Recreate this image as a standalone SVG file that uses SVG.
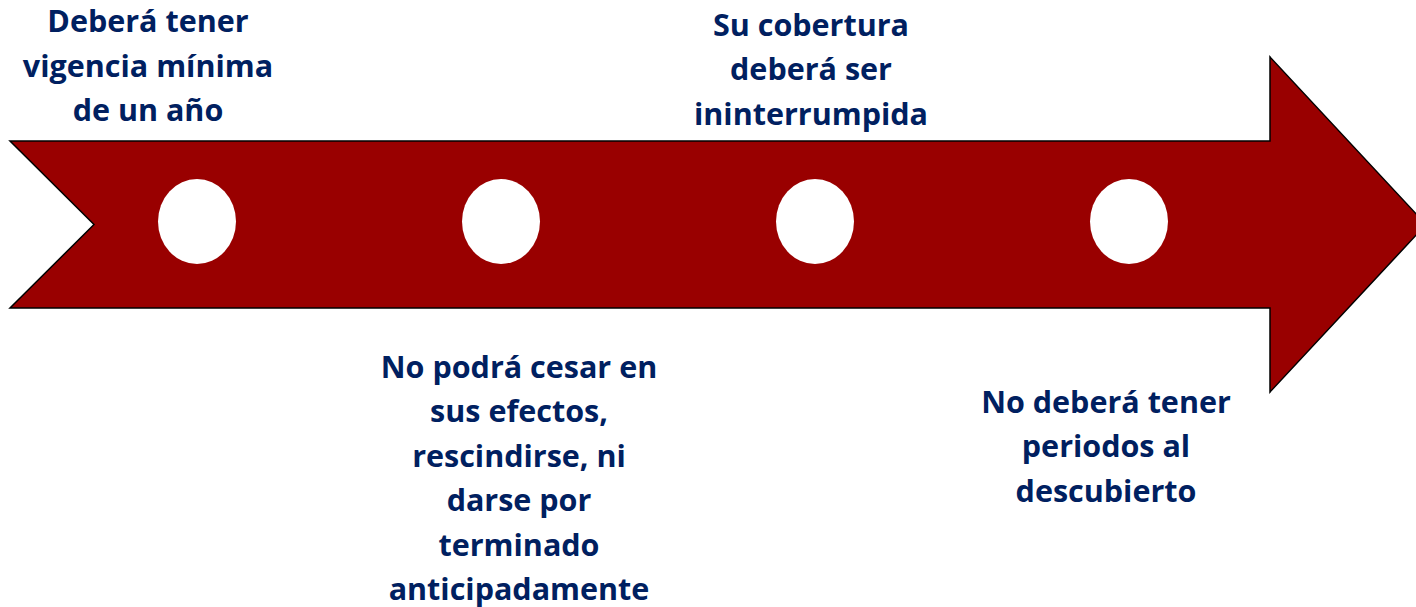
<svg xmlns="http://www.w3.org/2000/svg" width="1416" height="607" viewBox="0 0 1416 607">
<style>
.arrow{fill:#990000;stroke:#000;stroke-width:1.5;stroke-linejoin:miter}
.dot{fill:#fff}
.lbl{font-family:"Open Sans","Liberation Sans",sans-serif;font-weight:700;font-size:30.5px;fill:#002060;text-anchor:middle}
</style>
<rect width="1416" height="607" fill="#fff"/>
<g id="timeline-arrow">
<polygon class="arrow" points="10,141 1270,141 1270,57 1426,224.5 1270,392 1270,308 10,308 94,224.5"/>
</g>
<g id="connectors"></g>
<g id="node1">
<ellipse class="dot" cx="197" cy="221.5" rx="39" ry="42.5"/>
<text class="lbl" x="148" y="32">Deberá tener</text>
<text class="lbl" x="148" y="76.5">vigencia mínima</text>
<text class="lbl" x="148" y="121">de un año</text>
</g>
<g id="node2">
<ellipse class="dot" cx="501" cy="221.5" rx="39" ry="42.5"/>
<text class="lbl" x="519" y="377.5">No podrá cesar en</text>
<text class="lbl" x="519" y="422">sus efectos,</text>
<text class="lbl" x="519" y="466.5">rescindirse, ni</text>
<text class="lbl" x="519" y="511">darse por</text>
<text class="lbl" x="519" y="555.5">terminado</text>
<text class="lbl" x="519" y="599.5">anticipadamente</text>
</g>
<g id="node3">
<ellipse class="dot" cx="815" cy="221.5" rx="39" ry="42.5"/>
<text class="lbl" x="811" y="35.5">Su cobertura</text>
<text class="lbl" x="811" y="80">deberá ser</text>
<text class="lbl" x="811" y="124.5">ininterrumpida</text>
</g>
<g id="node4">
<ellipse class="dot" cx="1129" cy="221.5" rx="39" ry="42.5"/>
<text class="lbl" x="1106" y="412.7">No deberá tener</text>
<text class="lbl" x="1106" y="457">periodos al</text>
<text class="lbl" x="1106" y="501.7">descubierto</text>
</g>
</svg>
